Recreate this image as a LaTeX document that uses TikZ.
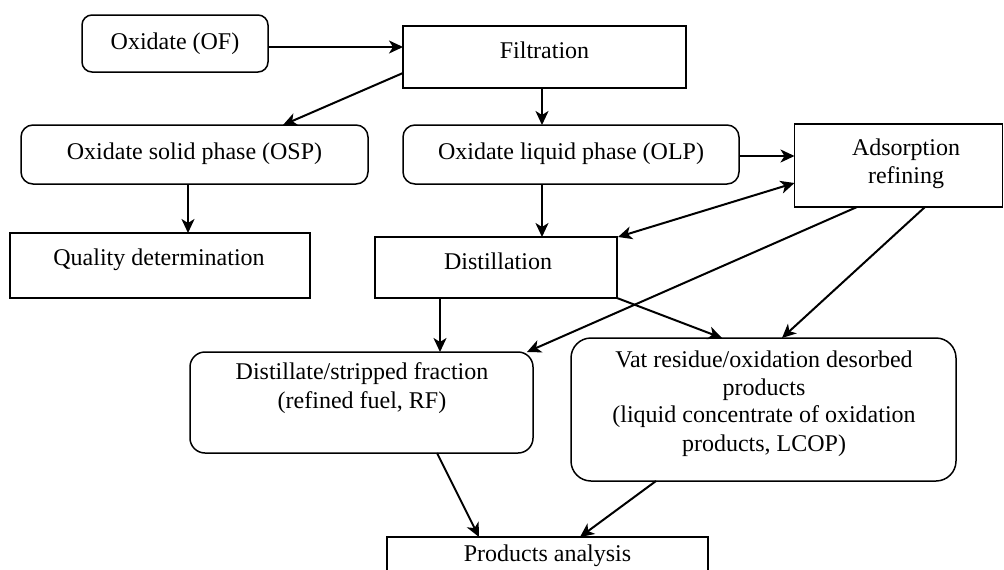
\documentclass[tikz,border=0pt]{standalone}
\usepackage{fontspec}
\setmainfont{Liberation Serif}
\usetikzlibrary{arrows.meta}
\begin{document}
\begin{tikzpicture}[x=1pt,y=-1pt,
  box/.style={draw, line width=1.5pt, inner sep=0pt, outer sep=0pt},
  rbox/.style={box, rounded corners=#1},
  txt/.style={anchor=base, inner sep=0pt, font=\fontsize{24}{28}\selectfont},
  tip/.tip={Stealth[length=14pt,width=13pt,inset=4pt]},
  arr/.style={line width=2pt, -tip},
  darr/.style={line width=2pt, tip-tip}]
\clip (0,0) rectangle (1004,570);
\fill[white] (0,0) rectangle (1004,570);
% boxes
\node[rbox=10pt, minimum width=186pt, minimum height=57pt] (of) at (175,43.5) {};
\node[box, minimum width=283pt, minimum height=62pt] (filt) at (544.5,57) {};
\node[rbox=12pt, minimum width=347pt, minimum height=59pt] (osp) at (194.5,154.5) {};
\node[rbox=12pt, minimum width=336pt, minimum height=59pt] (olp) at (571,154.5) {};
\node[box, minimum width=300pt, minimum height=65pt] (qual) at (160,265.5) {};
\node[box, minimum width=242pt, minimum height=61pt] (dist) at (496,267.5) {};
\node[box, minimum width=208pt, minimum height=83pt] (ads) at (898.5,165.5) {};
\node[rbox=15pt, minimum width=343pt, minimum height=101pt] (rf) at (361.5,402.5) {};
\node[rbox=20pt, minimum width=385pt, minimum height=143pt] (vat) at (763.5,409.5) {};
\node[box, minimum width=321pt, minimum height=60pt] (prod) at (547.5,567) {};
% texts
\node[txt] (tof) at (175,49.5) {Oxidate (OF)};
\node[txt] (tfilt) at (544.5,58) {Filtration};
\node[txt] (tosp) at (194.5,159) {Oxidate solid phase (OSP)};
\node[txt] (tolp) at (571,159) {Oxidate liquid phase (OLP)};
\node[txt] (tqual) at (159,265) {Quality determination};
\node[txt] (tdist) at (498,269) {Distillation};
\node[txt] (tads1) at (906,155) {Adsorption};
\node[txt] (tads2) at (906,183) {refining};
\node[txt] (trf1) at (362,379) {Distillate/stripped fraction};
\node[txt] (trf2) at (362,408) {(refined fuel, RF)};
\node[txt] (tvat1) at (764,367) {Vat residue/oxidation desorbed};
\node[txt] (tvat2) at (764,395) {products};
\node[txt] (tvat3) at (764,422) {(liquid concentrate of oxidation};
\node[txt] (tvat4) at (764,451) {products, LCOP)};
\node[txt] (tprod) at (547.5,561) {Products analysis};
% connectors
\draw[arr] ([yshift=-3.5pt]of.east) -- ([yshift=-3.5pt]of.east -| filt.west);
\draw[arr] ([yshift=-16pt]filt.west) -- ([xshift=88.5pt]osp.north);
\draw[arr] ([xshift=-2.5pt]filt.south) -- ([xshift=-2.5pt]filt.south |- olp.north);
\draw[arr] ([xshift=-6.5pt]osp.south) -- ([xshift=-6.5pt]osp.south |- qual.north);
\draw[arr] ([yshift=-1.5pt]olp.east) -- ([yshift=-1.5pt]olp.east -| ads.west);
\draw[arr] ([xshift=-29pt]olp.south) -- ([xshift=-29pt]olp.south |- dist.north);
\draw[darr] ([xshift=1pt]dist.north east) -- ([yshift=-17.5pt]ads.west);
\draw[arr] ([xshift=-41.5pt]ads.south) -- ([xshift=-6pt]rf.north east);
\draw[arr] ([xshift=26.5pt]ads.south) -- ([xshift=18.5pt]vat.north);
\draw[arr] ([xshift=-56pt]dist.south) -- ([xshift=-56pt]dist.south |- rf.north);
\draw[arr] (dist.south east) -- ([xshift=-41.5pt]vat.north);
\draw[arr] ([xshift=75.5pt]rf.south) -- ([xshift=-68.5pt]prod.north);
\draw[arr] ([xshift=-107.5pt]vat.south) -- ([xshift=32.5pt]prod.north);
\end{tikzpicture}
\end{document}
